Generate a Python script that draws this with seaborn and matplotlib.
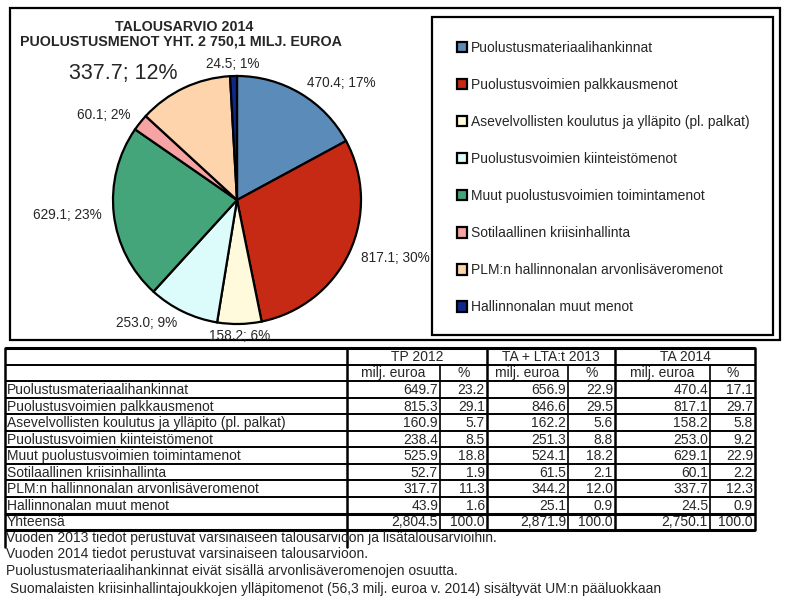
import matplotlib.pyplot as plt
import seaborn as sns
import numpy as np

sns.set_style("white")
plt.rcParams['font.family'] = ['Liberation Sans', 'DejaVu Sans']

# data
categories = ["Puolustusmateriaalihankinnat",
              "Puolustusvoimien palkkausmenot",
              "Asevelvollisten koulutus ja ylläpito (pl. palkat)",
              "Puolustusvoimien kiinteistömenot",
              "Muut puolustusvoimien toimintamenot",
              "Sotilaallinen kriisinhallinta",
              "PLM:n hallinnonalan arvonlisäveromenot",
              "Hallinnonalan muut menot"]
tp2012 = [649.7, 815.3, 160.9, 238.4, 525.9, 52.7, 317.7, 43.9]
tp2012_pct = [23.2, 29.1, 5.7, 8.5, 18.8, 1.9, 11.3, 1.6]
ta2013 = [656.9, 846.6, 162.2, 251.3, 524.1, 61.5, 344.2, 25.1]
ta2013_pct = [22.9, 29.5, 5.6, 8.8, 18.2, 2.1, 12.0, 0.9]
ta2014 = [470.4, 817.1, 158.2, 253.0, 629.1, 60.1, 337.7, 24.5]
ta2014_pct = [17.1, 29.7, 5.8, 9.2, 22.9, 2.2, 12.3, 0.9]
groups = ["TP 2012", "TA + LTA:t 2013", "TA 2014"]
total_label = "Yhteensä"
footnotes = ["Vuoden 2013 tiedot perustuvat varsinaiseen talousarvioon ja lisätalousarvioihin.",
             "Vuoden 2014 tiedot perustuvat varsinaiseen talousarvioon.",
             "Puolustusmateriaalihankinnat eivät sisällä arvonlisäveromenojen osuutta.",
             " Suomalaisten kriisinhallintajoukkojen ylläpitomenot (56,3 milj. euroa v. 2014) sisältyvät UM:n pääluokkaan"]

colors = ["#5b8bb8", "#c62a15", "#fffadb", "#dcfbfb", "#44a57a", "#f5a3a3", "#fdd4ab", "#10288a"]

W, H = 790, 610
fig = plt.figure(figsize=(7.9, 6.1), dpi=100)
ax = fig.add_axes([0, 0, 1, 1])
ax.set_xlim(0, W)
ax.set_ylim(H, 0)
ax.axis('off')

# kehykset
ax.add_patch(plt.Rectangle((10, 8), 770, 332, fill=False, lw=1.6, ec='black'))
ax.add_patch(plt.Rectangle((432, 17), 341, 318, fill=False, lw=1.6, ec='black'))

# otsikko
ax.text(184, 27, "TALOUSARVIO 2014", ha='center', va='center', fontsize=10.3, fontweight='bold')
ax.text(181, 42, "PUOLUSTUSMENOT YHT. 2 750,1 MILJ. EUROA", ha='center', va='center',
        fontsize=10.3, fontweight='bold')

# piirakka
cx, cy, r = 237, 200, 124
ax_pie = fig.add_axes([(cx - r) / W, 1 - (cy + r) / H, 2 * r / W, 2 * r / H])
wedges, _ = ax_pie.pie(ta2014, colors=colors, startangle=90, counterclock=False,
                       wedgeprops=dict(edgecolor='black', linewidth=1.6))
ax_pie.set_xlim(-1, 1)
ax_pie.set_ylim(-1, 1)
ax_pie.axis('off')
total = sum(ta2014)
big_label = 6
for i, (w, v) in enumerate(zip(wedges, ta2014)):
    w.set_clip_on(False)
    th = np.deg2rad((w.theta1 + w.theta2) / 2)
    d = 1.13 if i == big_label else 1.1
    x, y = d * np.cos(th), d * np.sin(th)
    ha = 'left' if x > 0.15 else ('right' if x < -0.15 else 'center')
    size = 15.5 if i == big_label else 9.8
    ax_pie.text(x, y, f"{v:.1f}; {round(100 * v / total)}%", ha=ha, va='center',
                fontsize=size, clip_on=False)

# selite
leg = ax.legend(wedges, categories, loc='upper left', bbox_to_anchor=(457, 41),
                bbox_transform=ax.transData, frameon=False, fontsize=10,
                handlelength=0.75, handleheight=0.75, handletextpad=0.25,
                labelspacing=1.66, borderpad=0, borderaxespad=0)

# taulukko
cols = [5, 347, 440, 487, 568, 615, 710, 755]
top, row_h = 348, 16.55
n_rows = 11
ys = [top + k * row_h for k in range(n_rows + 1)]
bottom = ys[-1]

for k, y in enumerate(ys):
    lw = 2.2 if k in (0, n_rows - 1, n_rows) else 1.4
    ax.plot([cols[0], cols[-1]], [y, y], color='black', lw=lw, solid_capstyle='butt')
for x in [cols[0], cols[1]]:
    ax.plot([x, x], [top, bottom + 17], color='black', lw=1.8)
for x in [cols[3], cols[5], cols[7]]:
    ax.plot([x, x], [top, bottom], color='black', lw=1.8)
for x in [cols[2], cols[4], cols[6]]:
    ax.plot([x, x], [ys[1], bottom], color='black', lw=1.2)

def ymid(k):
    return (ys[k] + ys[k + 1]) / 2 + 0.6

for g, name in enumerate(groups):
    x0, x1 = cols[1 + 2 * g], cols[3 + 2 * g]
    ax.text((x0 + x1) / 2, ymid(0), name, ha='center', va='center', fontsize=10)
    ax.text((cols[1 + 2 * g] + cols[2 + 2 * g]) / 2, ymid(1), "milj. euroa", ha='center', va='center', fontsize=10)
    ax.text((cols[2 + 2 * g] + cols[3 + 2 * g]) / 2, ymid(1), "%", ha='center', va='center', fontsize=10)

series = [(tp2012, tp2012_pct), (ta2013, ta2013_pct), (ta2014, ta2014_pct)]
rows = categories + [total_label]
for i, name in enumerate(rows):
    ax.text(cols[0] + 2, ymid(i + 2), name, ha='left', va='center', fontsize=10)
for g, (vals, pcts) in enumerate(series):
    vals_all = vals + [sum(vals)]
    pcts_all = pcts + [100.0]
    for i in range(len(rows)):
        ax.text(cols[2 + 2 * g] - 2, ymid(i + 2), f"{vals_all[i]:,.1f}", ha='right', va='center', fontsize=10)
        ax.text(cols[3 + 2 * g] - 2, ymid(i + 2), f"{pcts_all[i]:.1f}", ha='right', va='center', fontsize=10)

# alaviitteet
for j, (note, y) in enumerate(zip(footnotes, [538, 554, 571, 589])):
    ax.text(6, y, note, ha='left', va='center', fontsize=10)

fig.savefig('out.png', dpi=100)
